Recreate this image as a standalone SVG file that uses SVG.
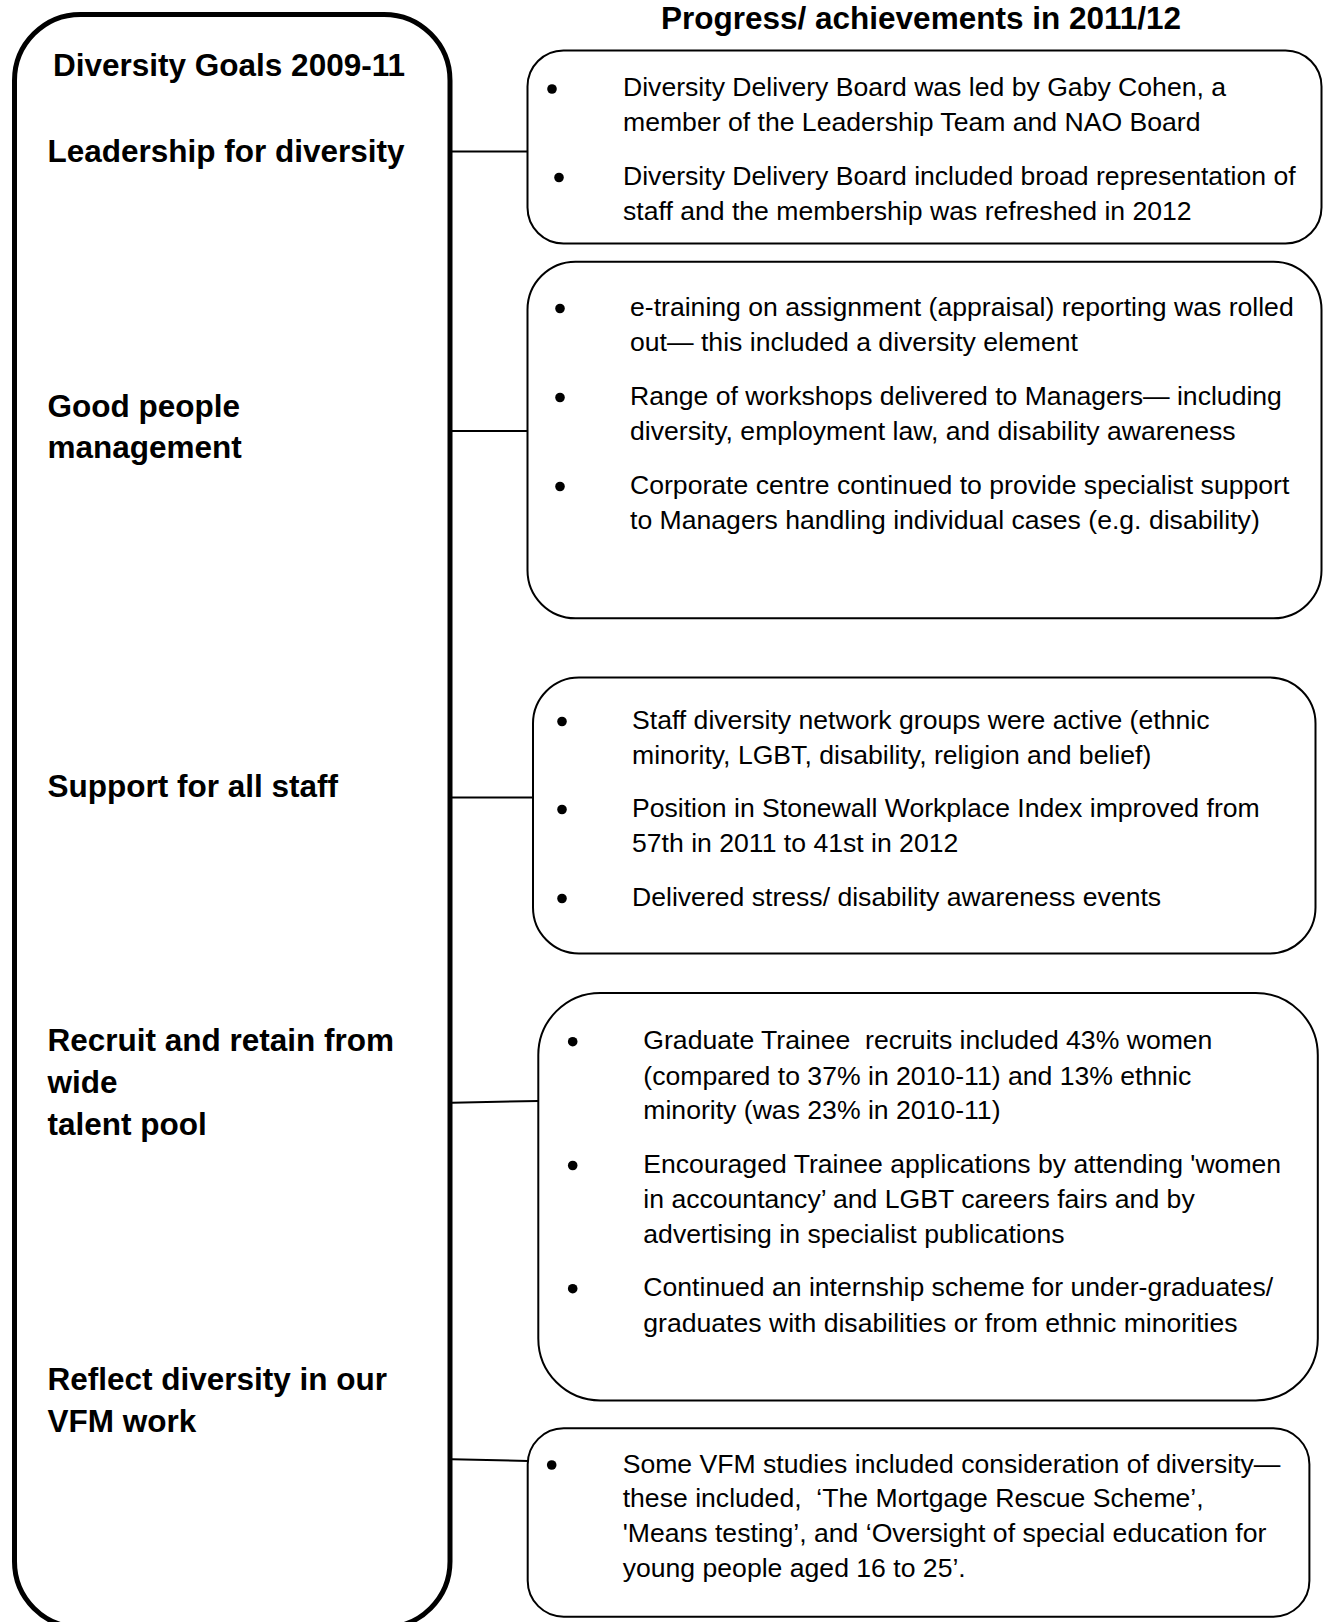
<svg xmlns="http://www.w3.org/2000/svg" width="1325" height="1622" viewBox="0 0 1325 1622">
  <style>
    .bg { fill: #ffffff; }
    .goals { fill: #ffffff; stroke: #000000; stroke-width: 5; }
    .box { fill: #ffffff; stroke: #000000; stroke-width: 2; }
    .conn { fill: none; stroke: #000000; stroke-width: 2; }
    .label { font-family: "Liberation Sans", Arial, sans-serif; font-weight: bold; font-size: 31.5px; fill: #000000; }
    .body { font-family: "Liberation Sans", Arial, sans-serif; font-size: 26.6px; fill: #000000; }
    .bullet { fill: #000000; }
  </style>
  <rect class="bg" x="0" y="0" width="1325" height="1622"/>

  <text id="heading" class="label" x="921" y="29" text-anchor="middle">Progress/ achievements in 2011/12</text>

  <g id="goals">
    <rect class="goals" x="14.5" y="14.5" width="435.5" height="1613" rx="66" ry="66"/>
    <text class="label" x="53" y="75.7">Diversity Goals 2009-11</text>
    <text class="label" x="47.5" y="161.7">Leadership for diversity</text>
    <text class="label" x="47.5" y="416.5">Good people</text>
    <text class="label" x="47.5" y="458">management</text>
    <text class="label" x="47.5" y="797">Support for all staff</text>
    <text class="label" x="47.5" y="1050.5">Recruit and retain from</text>
    <text class="label" x="47.5" y="1092.5">wide</text>
    <text class="label" x="47.5" y="1134.5">talent pool</text>
    <text class="label" x="47.5" y="1390">Reflect diversity in our</text>
    <text class="label" x="47.5" y="1431.7">VFM work</text>
  </g>

  <g id="connectors">
    <line class="conn" x1="452" y1="151.5" x2="528" y2="151.5"/>
    <line class="conn" x1="452" y1="431" x2="528" y2="431"/>
    <line class="conn" x1="452" y1="797.5" x2="533" y2="797.5"/>
    <line class="conn" x1="452" y1="1102.7" x2="538.5" y2="1101"/>
    <line class="conn" x1="452" y1="1459.3" x2="528" y2="1461"/>
  </g>

  <g id="box-leadership">
    <rect class="box" x="527.5" y="50.5" width="794" height="193" rx="36" ry="36"/>
    <circle class="bullet" cx="552" cy="89" r="4.8"/>
    <text class="body" x="623" y="96">Diversity Delivery Board was led by Gaby Cohen, a</text>
    <text class="body" x="623" y="130.7">member of the Leadership Team and NAO Board</text>
    <circle class="bullet" cx="559" cy="177.5" r="4.8"/>
    <text class="body" x="623" y="184.5">Diversity Delivery Board included broad representation of</text>
    <text class="body" x="623" y="220">staff and the membership was refreshed in 2012</text>
  </g>

  <g id="box-people">
    <rect class="box" x="527.5" y="261.7" width="794" height="356.6" rx="48" ry="48"/>
    <circle class="bullet" cx="560" cy="308.5" r="4.8"/>
    <text class="body" x="630" y="316">e-training on assignment (appraisal) reporting was rolled</text>
    <text class="body" x="630" y="351">out— this included a diversity element</text>
    <circle class="bullet" cx="560" cy="397.5" r="4.8"/>
    <text class="body" x="630" y="405">Range of workshops delivered to Managers— including</text>
    <text class="body" x="630" y="440">diversity, employment law, and disability awareness</text>
    <circle class="bullet" cx="560" cy="486.5" r="4.8"/>
    <text class="body" x="630" y="494">Corporate centre continued to provide specialist support</text>
    <text class="body" x="630" y="529">to Managers handling individual cases (e.g. disability)</text>
  </g>

  <g id="box-support">
    <rect class="box" x="533" y="677.5" width="782.5" height="276" rx="46" ry="46"/>
    <circle class="bullet" cx="562" cy="721.5" r="4.8"/>
    <text class="body" x="632" y="729">Staff diversity network groups were active (ethnic</text>
    <text class="body" x="632" y="764">minority, LGBT, disability, religion and belief)</text>
    <circle class="bullet" cx="562" cy="809.5" r="4.8"/>
    <text class="body" x="632" y="817">Position in Stonewall Workplace Index improved from</text>
    <text class="body" x="632" y="852">57th in 2011 to 41st in 2012</text>
    <circle class="bullet" cx="562" cy="898.5" r="4.8"/>
    <text class="body" x="632" y="906">Delivered stress/ disability awareness events</text>
  </g>

  <g id="box-recruit">
    <rect class="box" x="538.3" y="993" width="779.5" height="407.4" rx="62" ry="62"/>
    <circle class="bullet" cx="572.7" cy="1041.7" r="4.8"/>
    <text class="body" x="643.3" y="1049.3" xml:space="preserve">Graduate Trainee  recruits included 43% women</text>
    <text class="body" x="643.3" y="1085">(compared to 37% in 2010-11) and 13% ethnic</text>
    <text class="body" x="643.3" y="1119.3">minority (was 23% in 2010-11)</text>
    <circle class="bullet" cx="572.7" cy="1165.5" r="4.8"/>
    <text class="body" x="643.3" y="1172.7">Encouraged Trainee applications by attending 'women</text>
    <text class="body" x="643.3" y="1208.3">in accountancy’ and LGBT careers fairs and by</text>
    <text class="body" x="643.3" y="1242.7">advertising in specialist publications</text>
    <circle class="bullet" cx="572.7" cy="1288.7" r="4.8"/>
    <text class="body" x="643.3" y="1296">Continued an internship scheme for under-graduates/</text>
    <text class="body" x="643.3" y="1331.7">graduates with disabilities or from ethnic minorities</text>
  </g>

  <g id="box-vfm">
    <rect class="box" x="527.7" y="1428.3" width="781.7" height="188.4" rx="36" ry="36"/>
    <circle class="bullet" cx="551.7" cy="1465" r="4.8"/>
    <text class="body" x="622.7" y="1472.7">Some VFM studies included consideration of diversity—</text>
    <text class="body" x="622.7" y="1507" xml:space="preserve">these included,  ‘The Mortgage Rescue Scheme’,</text>
    <text class="body" x="622.7" y="1541.7">'Means testing’, and ‘Oversight of special education for</text>
    <text class="body" x="622.7" y="1576.7">young people aged 16 to 25’.</text>
  </g>
</svg>
